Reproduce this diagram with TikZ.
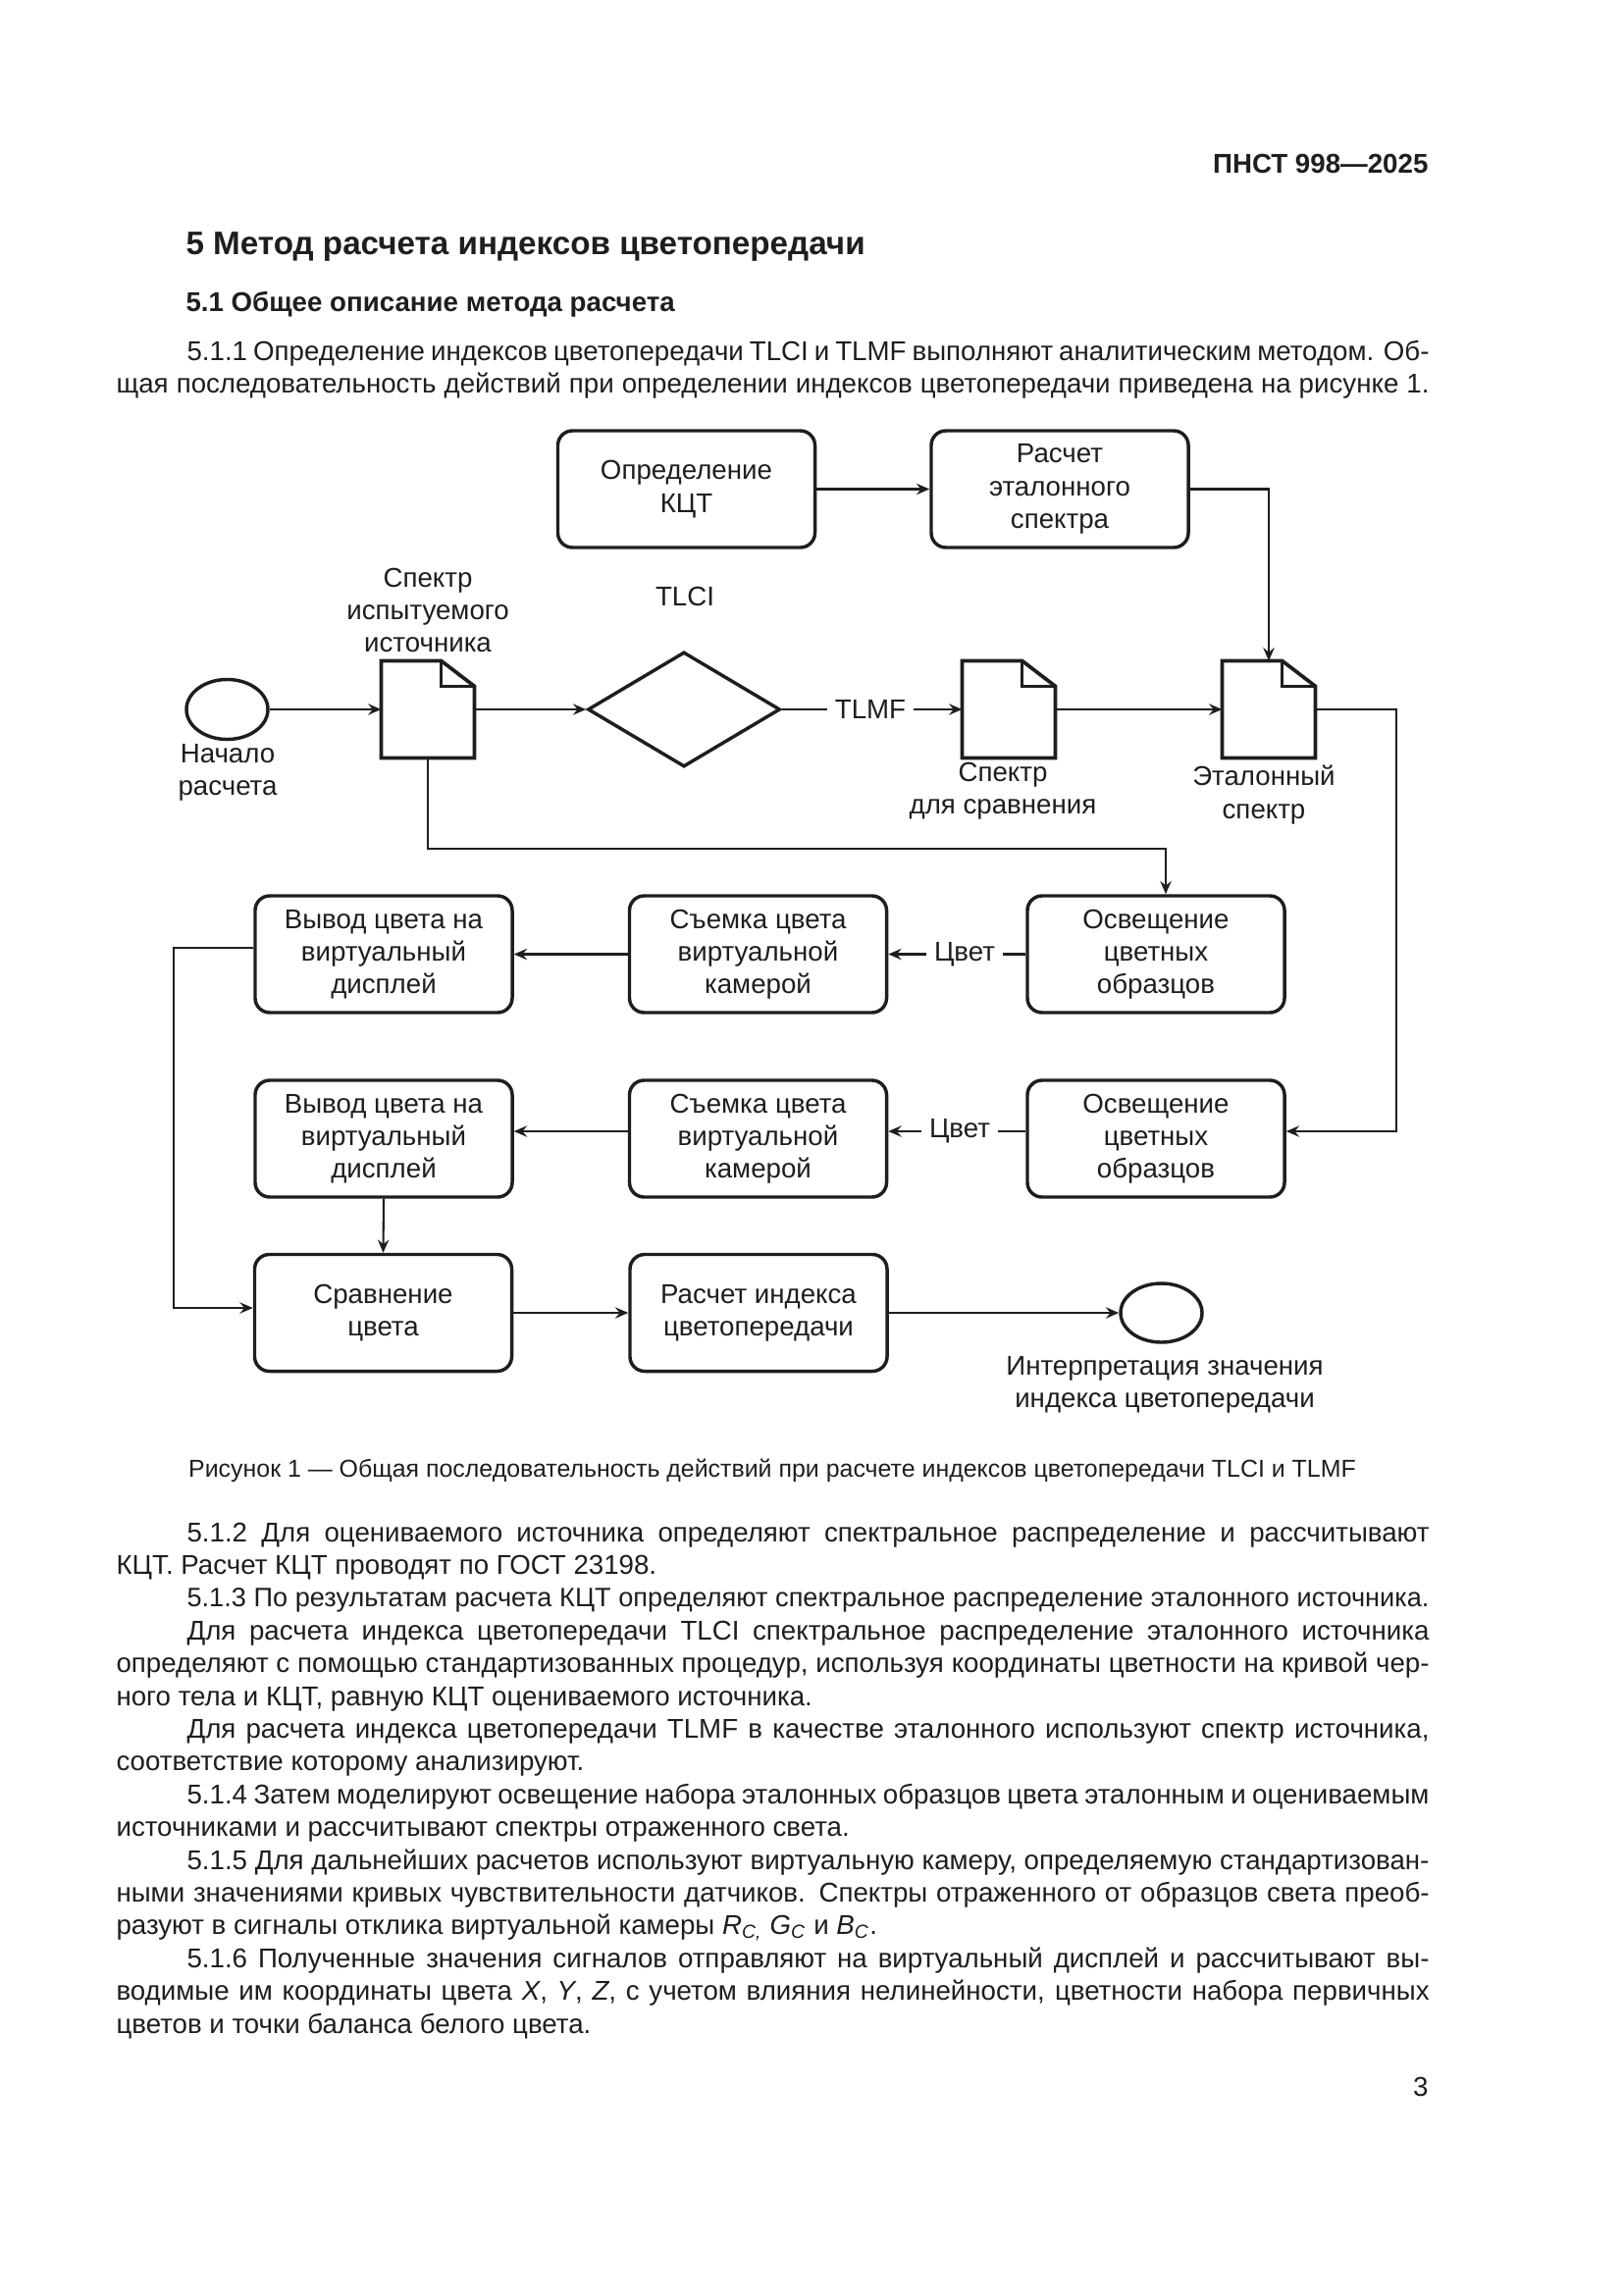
\documentclass[tikz,border=0pt]{standalone}
\usepackage{fontspec}
\setmainfont{Liberation Sans}
\usetikzlibrary{shapes.geometric,arrows.meta,calc}
\newlength\pxu
\setlength\pxu{0.12697mm}
\definecolor{ink}{RGB}{30,30,30}
\newcommand\diagfont{\fontsize{10}{12}\selectfont}
\newcommand\bodyfont{\fontsize{10}{12}\selectfont}
\newcommand\capfont{\fontsize{9}{11}\selectfont}
\newcommand\docshape[1]{%
  \draw[docline] (#1.north west) -- ($(#1.north east)+(-34,0)$) -- ($(#1.north east)+(0,26)$) -- (#1.south east) -- (#1.south west) -- cycle;
  \draw[docline] ($(#1.north east)+(-34,0)$) |- ($(#1.north east)+(0,26)$);}
\begin{document}
\begin{tikzpicture}[x=\pxu,y=-\pxu,
  every node/.style={text=ink},
  box/.style={draw=ink,line width=1.25pt,rounded corners=1.9mm,minimum width=33.27mm,minimum height=15.11mm,inner sep=0pt,align=center,font=\diagfont},
  docnode/.style={minimum width=11.94mm,minimum height=12.44mm,inner sep=0pt},
  docline/.style={draw=ink,line width=1.35pt,line join=miter},
  lbl/.style={align=center,font=\diagfont,inner sep=0pt},
  conn/.style={draw=ink,line width=0.75pt},
  tconn/.style={draw=ink,line width=1.0pt},
  tip/.style={-{Stealth[length=1.7mm,width=1.45mm,inset=0.6mm]}},
  body/.style={font=\bodyfont,inner sep=0pt,anchor=base west}
]
\fill[white] (0,0) rectangle (1654,2339);
\useasboundingbox (0,0) rectangle (1654,2339);

% header and headings
\node[font=\fontsize{10}{12}\selectfont\bfseries,inner sep=0pt,anchor=base east] (hdr) at (1456,177) {ПНСТ 998—2025};
\node[font=\fontsize{12}{14}\selectfont\bfseries,inner sep=0pt,anchor=base west] (h5) at (189,259) {5 Метод расчета индексов цветопередачи};
\node[font=\fontsize{10}{12}\selectfont\bfseries,inner sep=0pt,anchor=base west] (h51) at (189,317) {5.1 Общее описание метода расчета};
\node[body] (p1a) at (190,367) {\makebox[160.74mm][s]{5.1.1 Определение индексов цветопередачи TLCI и TLMF выполняют аналитическим методом. Об-}};
\node[body] (p1b) at (118,400.5) {\makebox[169.89mm][s]{щая последовательность действий при определении индексов цветопередачи приведена на рисунке 1.}};

% diagram nodes
\node[box] (opr) at (699.5,498.5) {Определение\\КЦТ};
\node[box] (ras) at (1080,498.5) {Расчет\\эталонного\\спектра};
\node[draw=ink,line width=1.25pt,ellipse,minimum width=10.54mm,minimum height=7.75mm,inner sep=0pt] (start) at (231.5,723) {};
\node[docnode] (doc1) at (436,723) {};
\node[diamond,draw=ink,line width=1.25pt,minimum width=24.89mm,minimum height=14.86mm,inner sep=0pt] (dia) at (697,723) {};
\node[lbl,inner xsep=0.9mm] (tlmf) at (887,723) {TLMF};
\node[docnode] (doc2) at (1028,723) {};
\node[docnode] (doc3) at (1293,723) {};
\docshape{doc1}
\docshape{doc2}
\docshape{doc3}
\node[lbl] (l1) at (436,622) {Спектр\\испытуемого\\источника};
\node[lbl] (ltlci) at (698,608) {TLCI};
\node[lbl] (lstart) at (232,787) {Начало\\расчета};
\node[lbl] (l2) at (1022,806) {Спектр\\для сравнения};
\node[lbl] (l3) at (1288,810) {Эталонный\\спектр};

\node[box] (vyv1) at (391,972.5) {Вывод цвета на\\виртуальный\\дисплей};
\node[box] (sem1) at (772.5,972.5) {Съемка цвета\\виртуальной\\камерой};
\node[box] (osv1) at (1178,972.5) {Освещение\\цветных\\образцов};
\node[lbl,inner xsep=1mm] (cv1) at (983,972.5) {Цвет};
\node[box] (vyv2) at (391,1160.5) {Вывод цвета на\\виртуальный\\дисплей};
\node[box] (sem2) at (772.5,1160.5) {Съемка цвета\\виртуальной\\камерой};
\node[box] (osv2) at (1178,1160.5) {Освещение\\цветных\\образцов};
\node[lbl,inner xsep=1mm] (cv2) at (978,1153) {Цвет};
\node[box] (srav) at (390.5,1338) {Сравнение\\цвета};
\node[box] (rind) at (773,1338) {Расчет индекса\\цветопередачи};
\node[draw=ink,line width=1.25pt,ellipse,minimum width=10.54mm,minimum height=7.62mm,inner sep=0pt] (end) at (1183.5,1338) {};
\node[lbl] (lend) at (1187,1411) {Интерпретация значения\\индекса цветопередачи};

% connectors
\coordinate (k1) at (1188,865);
\coordinate (k2) at (1423,1153);
\coordinate (k3) at (177,1333);
\draw[tconn,tip] (start) -- (doc1);
\draw[conn,tip] (doc1) -- (dia);
\draw[conn] (dia.east) -- (tlmf.west);
\draw[conn,tip] (tlmf.east) -- (doc2.west);
\draw[conn,tip] (doc2) -- (doc3);
\draw[conn,tip] (opr) -- (ras);
\draw[tconn,tip] (ras.east) -| (doc3.north);
\draw[conn,tip] (doc1.south) |- (k1) -- (k1 |- osv1.north);
\draw[conn,tip] (doc3.east) -| (k2) -- (k2 -| osv2.east);
\draw[tconn] (osv1.west) -- (cv1.east);
\draw[tconn,tip] (cv1.west) -- (sem1.east);
\draw[tconn,tip] (sem1) -- (vyv1);
\draw[conn,tip] ($(vyv1.west)+(0,-6.5)$) -| (k3) -- (k3 -| srav.west);
\draw[tconn] (osv2.west |- k2) -- (cv2.east);
\draw[tconn,tip] (cv2.west) -- (cv2.west -| sem2.east);
\draw[tconn,tip] (sem2.west |- k2) -- (k2 -| vyv2.east);
\draw[conn,tip] (vyv2.south) -- (srav.north);
\draw[tconn,tip] (srav) -- (rind);
\draw[conn,tip] (rind) -- (end);

% caption
\node[font=\capfont,inner sep=0pt,anchor=base] (cap) at (787,1505) {Рисунок 1 — Общая последовательность действий при расчете индексов цветопередачи TLCI и TLMF};

% body text
\node[body] (b0) at (190,1571) {\makebox[160.74mm][s]{5.1.2 Для оцениваемого источника определяют спектральное распределение и рассчитывают}};
\node[body] (b1) at (118,1604.4) {КЦТ. Расчет КЦТ проводят по ГОСТ 23198.};
\node[body] (b2) at (190,1637.8) {\makebox[160.74mm][s]{\fontsize{9.8}{12}\selectfont 5.1.3 По результатам расчета КЦТ определяют спектральное распределение эталонного источника.}};
\node[body] (b3) at (190,1671.2) {\makebox[160.74mm][s]{Для расчета индекса цветопередачи TLCI спектральное распределение эталонного источника}};
\node[body] (b4) at (118,1704.6) {\makebox[169.89mm][s]{определяют с помощью стандартизованных процедур, используя координаты цветности на кривой чер-}};
\node[body] (b5) at (118,1738) {ного тела и КЦТ, равную КЦТ оцениваемого источника.};
\node[body] (b6) at (190,1771.4) {\makebox[160.74mm][s]{Для расчета индекса цветопередачи TLMF в качестве эталонного используют спектр источника,}};
\node[body] (b7) at (118,1804.8) {соответствие которому анализируют.};
\node[body] (b8) at (190,1838.2) {\makebox[160.74mm][s]{5.1.4 Затем моделируют освещение набора эталонных образцов цвета эталонным и оцениваемым}};
\node[body] (b9) at (118,1871.6) {источниками и рассчитывают спектры отраженного света.};
\node[body] (b10) at (190,1905) {\makebox[160.74mm][s]{5.1.5 Для дальнейших расчетов используют виртуальную камеру, определяемую стандартизован-}};
\node[body] (b11) at (118,1938.4) {\makebox[169.89mm][s]{ными значениями кривых чувствительности датчиков. Спектры отраженного от образцов света преоб-}};
\node[body] (b12) at (118,1971.8) {разуют в сигналы отклика виртуальной камеры \textit{R}\textsubscript{\textit{C,}} \textit{G}\textsubscript{\textit{C}} и \textit{B}\textsubscript{\textit{C}}.};
\node[body] (b13) at (190,2005.2) {\makebox[160.74mm][s]{5.1.6 Полученные значения сигналов отправляют на виртуальный дисплей и рассчитывают вы-}};
\node[body] (b14) at (118,2038.6) {\makebox[169.89mm][s]{водимые им координаты цвета \textit{X}, \textit{Y}, \textit{Z}, с учетом влияния нелинейности, цветности набора первичных}};
\node[body] (b15) at (118,2072) {цветов и точки баланса белого цвета.};
\node[font=\bodyfont,inner sep=0pt,anchor=base east] (pg) at (1456,2136) {3};
\end{tikzpicture}
\end{document}
